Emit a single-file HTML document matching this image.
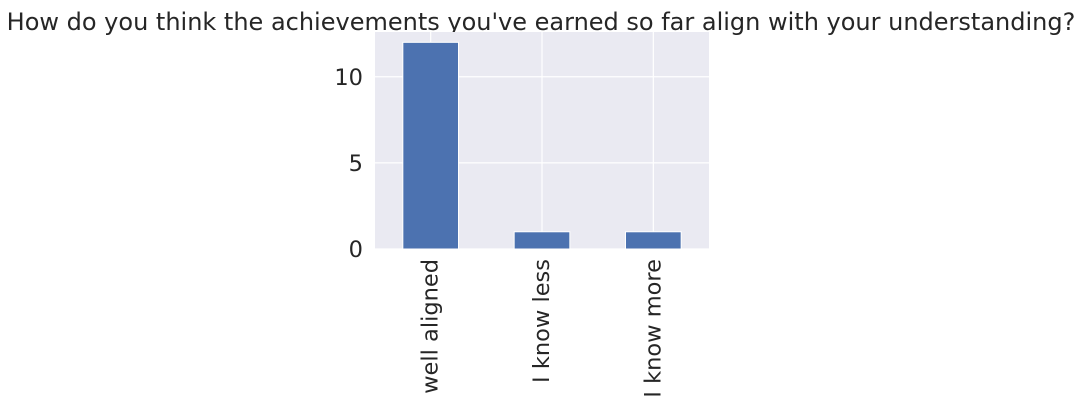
<!DOCTYPE html>
<html><head><meta charset="utf-8"><style>
html,body{margin:0;padding:0;background:#fff;}
svg{display:block;font-family:"DejaVu Sans","Liberation Sans",sans-serif;}
</style></head><body>
<svg id="chart" width="1082" height="401">
<text x="541" y="30" text-anchor="middle" font-size="24" fill="#262626">How do you think the achievements you've earned so far align with your understanding?</text>
<rect x="375" y="32" width="334" height="217" fill="#eaeaf2"/>
<g id="grid"></g><g id="bars"></g><g id="ticks"></g>
</svg>
<script>
const categories=["well aligned","I know less","I know more"];
const values=[12,1,1];
const yTicks=[0,5,10];
const NS="http://www.w3.org/2000/svg";
const x0=375,x1=709,yBottom=249,yTop=32;
const yMax=12.6;
function xs(i){return x0+(i+0.5)*(x1-x0)/3;}
function ys(v){return yBottom-v*(yBottom-yTop)/yMax;}
const grid=document.getElementById('grid'),bars=document.getElementById('bars'),ticks=document.getElementById('ticks');
function mk(t,a,p){const e=document.createElementNS(NS,t);for(const k in a)e.setAttribute(k,a[k]);p.appendChild(e);return e;}
yTicks.forEach(v=>{
  const l=mk('line',{x1:x0,x2:x1,y1:ys(v),y2:ys(v),stroke:'#fff','stroke-width':1.2},grid);
  
  
  const t=mk('text',{x:x0-12,y:ys(v)+8,'text-anchor':'end','font-size':22.5,fill:'#262626'},ticks);
  t.textContent=v;
  
  
});
categories.forEach((c,i)=>{
  const cx=xs(i);
  const g=mk('line',{x1:cx,x2:cx,y1:yTop,y2:yBottom,stroke:'#fff','stroke-width':1.2},grid);
  
  
  const w=(x1-x0)/3*0.5;
  const r=mk('rect',{x:cx-w/2,y:ys(values[i]),width:w,height:yBottom-ys(values[i]),fill:'#4c72b0',stroke:'#fff','stroke-width':1},bars);
  
  
  const t=mk('text',{x:0,y:0,'text-anchor':'end','font-size':22.5,fill:'#262626',transform:`translate(${cx+7},${yBottom+10}) rotate(-90)`},ticks);
  t.textContent=c;
  
  
});
</script>
</body></html>
